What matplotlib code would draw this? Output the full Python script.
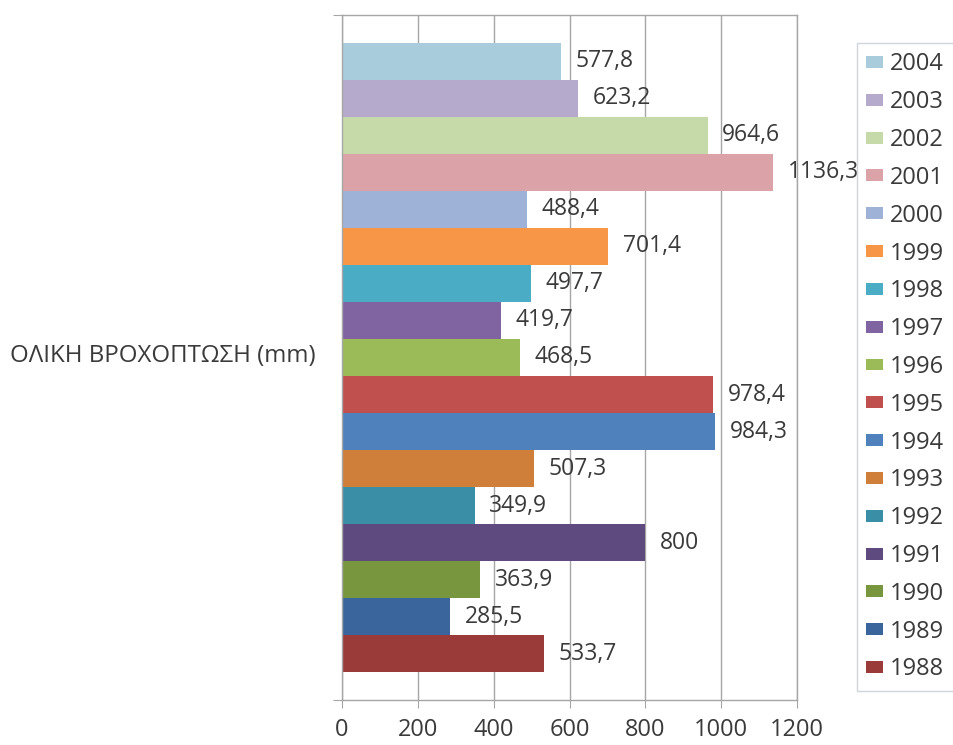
import matplotlib.pyplot as plt
from matplotlib.patches import Patch

plt.rcParams['font.family'] = ['Open Sans', 'DejaVu Sans']

years = ['1988', '1989', '1990', '1991', '1992', '1993', '1994', '1995', '1996',
         '1997', '1998', '1999', '2000', '2001', '2002', '2003', '2004']
rain = [533.7, 285.5, 363.9, 800, 349.9, 507.3, 984.3, 978.4, 468.5,
        419.7, 497.7, 701.4, 488.4, 1136.3, 964.6, 623.2, 577.8]
colors = ['#9A3B39', '#3A659C', '#78963D', '#5F4A80', '#3A8EA6', '#D07F3A',
          '#4F81BD', '#C0504D', '#9BBB59', '#8064A2', '#4BACC6', '#F79646',
          '#9EB2D8', '#DBA3A8', '#C6D9A9', '#B5AACB', '#A8CCDC']
xticks = [0, 200, 400, 600, 800, 1000, 1200]
ylabel = 'ΟΛΙΚΗ ΒΡΟΧΟΠΤΩΣΗ (mm)'

fig = plt.figure(figsize=(9.54, 7.45), dpi=100)
ax = fig.add_axes([342 / 954, 1 - 700 / 745, 455 / 954, 685 / 745])

grid_c = '#A6A6A6'
txt_c = '#3A3A3A'
for i, (v, c) in enumerate(zip(rain, colors)):
    ax.barh(i, v, height=1.0, color=c, zorder=2)
    lab = ('%g' % v).replace('.', ',')
    ax.annotate(lab, (v, i), xytext=(10.5, 0), textcoords='offset points',
                va='center', ha='left', fontsize=16.5, color=txt_c, zorder=3)

ax.set_xlim(0, 1200)
ax.set_ylim(-1.25, 17.25)
ax.set_xticks(xticks)
ax.set_xticklabels([str(t) for t in xticks], fontsize=17, color=txt_c)
ax.set_yticks([-1.25, 17.25])
ax.set_yticklabels(['', ''])
ax.xaxis.grid(True, color=grid_c, linewidth=1, zorder=0)
ax.tick_params(axis='x', length=6, color=grid_c, pad=7)
ax.tick_params(axis='y', length=6.5, color=grid_c)
for s in ax.spines.values():
    s.set_color(grid_c)
    s.set_linewidth(1)
ax.set_axisbelow(True)

fig.text(10 / 954, 1 - 356 / 745, ylabel, fontsize=17.3, color=txt_c,
         ha='left', va='center')

handles = [Patch(facecolor=c, edgecolor='none') for c in colors[::-1]]
leg = fig.legend(handles, years[::-1], loc='upper left',
                 bbox_to_anchor=(857 / 954, 1 - 43 / 745),
                 fontsize=17, frameon=True, fancybox=False,
                 handlelength=0.7, handleheight=0.4, handletextpad=0.3,
                 labelspacing=0.585, borderpad=0.4, borderaxespad=0)
leg.get_frame().set_edgecolor('#C5CAD3')
leg.get_frame().set_linewidth(1)
for t in leg.get_texts():
    t.set_color(txt_c)

plt.savefig('out.png', dpi=100)
